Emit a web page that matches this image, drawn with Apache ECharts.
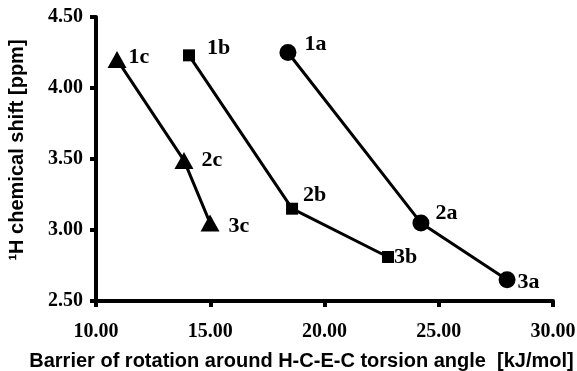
<!DOCTYPE html>
<html>
<head>
<meta charset="utf-8">
<script src="https://cdn.jsdelivr.net/npm/echarts@6/dist/echarts.min.js"></script>
<style>
    html, body { margin: 0; padding: 0; background: #fff; }
    #chart { width: 577px; height: 371px; }
</style>
</head>
<body>
<div id="chart"></div>
<script>
// series a (circles), b (squares), c (triangles)
var barrierA = [18.40, 24.22, 27.99];
var shiftA = [4.25, 3.05, 2.65];
var namesA = ['1a', '2a', '3a'];

var barrierB = [14.07, 18.58, 22.78];
var shiftB = [4.23, 3.15, 2.81];
var namesB = ['1b', '2b', '3b'];

var barrierC = [10.92, 13.85, 14.99];
var shiftC = [4.20, 3.49, 3.05];
var namesC = ['1c', '2c', '3c'];

var serif = '"Liberation Serif", "Times New Roman", serif';
var sans = '"Liberation Sans", Arial, sans-serif';

function points(xs, ys, names, offsets) {
    var out = [];
    for (var i = 0; i < xs.length; i++) {
        out.push({
            value: [xs[i], ys[i]],
            name: names[i],
            label: {offset: offsets[i]}
        });
    }
    return out;
}

function makeSeries(name, symbol, size, data) {
    return {
        name: name,
        type: 'line',
        symbol: symbol,
        symbolSize: size,
        data: data,
        lineStyle: {color: '#000', width: 3},
        itemStyle: {color: '#000'},
        label: {
            show: true,
            position: 'right',
            distance: 5,
            formatter: '{b}',
            color: '#000',
            fontFamily: serif,
            fontWeight: 'bold',
            fontSize: 22
        },
        z: 3
    };
}

var myChart = echarts.init(document.getElementById('chart'));
myChart.setOption({
    animation: false,
    backgroundColor: '#fff',
    grid: {left: 96, right: 24, top: 17, bottom: 70, outerBoundsMode: 'none', containLabel: false},
    xAxis: {
        type: 'value',
        min: 10,
        max: 30,
        interval: 5,
        name: 'Barrier of rotation around H-C-E-C torsion angle  [kJ/mol]',
        nameLocation: 'middle',
        nameGap: 50,
        nameTextStyle: {
            color: '#000', fontFamily: sans, fontWeight: 'bold', fontSize: 20,
            padding: [0, 46, 0, 0]
        },
        axisLine: {lineStyle: {color: '#000', width: 4}},
        axisTick: {show: true, inside: false, length: 6, lineStyle: {color: '#000', width: 4}},
        axisLabel: {
            color: '#000', fontFamily: serif, fontWeight: 'bold', fontSize: 20, margin: 21,
            formatter: function (v) { return v.toFixed(2); }
        },
        splitLine: {show: false}
    },
    yAxis: {
        type: 'value',
        min: 2.5,
        max: 4.5,
        interval: 0.5,
        name: '¹H chemical shift [ppm]',
        nameLocation: 'middle',
        nameGap: 69,
        nameTextStyle: {
            color: '#000', fontFamily: sans, fontWeight: 'bold', fontSize: 20,
            padding: [0, 0, 0, 18]
        },
        axisLine: {show: true, lineStyle: {color: '#000', width: 4}},
        axisTick: {show: true, inside: false, length: 6, lineStyle: {color: '#000', width: 4}},
        axisLabel: {
            color: '#000', fontFamily: serif, fontWeight: 'bold', fontSize: 20, margin: 13,
            formatter: function (v) { return v.toFixed(2); }
        },
        splitLine: {show: false}
    },
    series: [
        makeSeries('a', 'circle', 17, points(barrierA, shiftA, namesA, [[3, -8], [1, -10], [-3, 3]])),
        makeSeries('b', 'rect', 12, points(barrierB, shiftB, namesB, [[7, -7], [0, -13], [-5, 0]])),
        makeSeries('c', 'triangle', [19, 17], points(barrierC, shiftC, namesC, [[-3, -2], [3, 0], [4, 3]]))
    ]
});

window.onresize = function () {
    myChart.resize();
};
</script>
</body>
</html>
